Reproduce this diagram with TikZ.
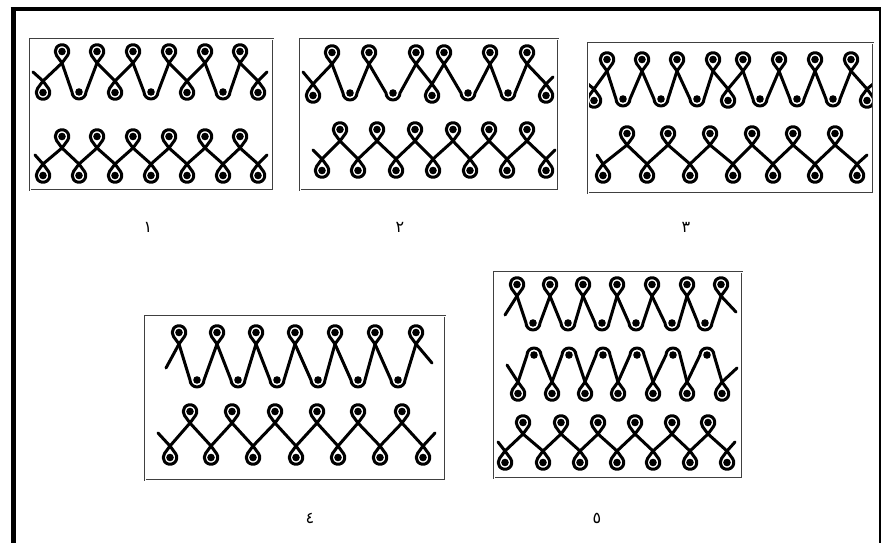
\documentclass[tikz,border=0pt]{standalone}
\usepackage{fontspec}
\newfontfamily\arabicfont[Script=Arabic]{DejaVu Sans}
\TeXXeTstate=1
\usetikzlibrary{calc}

\newcommand{\loopd}{11.5}
\newcommand{\loopr}{6.8}
\newcommand{\loopb}{36}
\newcommand{\bendr}{7}
\newcommand{\dotr}{3.8}

% loop above the crossing (#1,\ytop)
\newcommand{\looptop}[1]{%
	\draw[thread] (#1,\ytop) -- ($(#1,\ytop+\loopd)+(-\loopb:\loopr)$)
		arc[start angle=-\loopb, end angle=180+\loopb, radius=\loopr] -- (#1,\ytop);
	\fill (#1,\ytop+\loopd) circle[radius=\dotr];}
% loop below the crossing (#1,\ybot)
\newcommand{\loopbot}[1]{%
	\draw[thread] (#1,\ybot) -- ($(#1,\ybot-\loopd)+(\loopb:\loopr)$)
		arc[start angle=\loopb, end angle=-180-\loopb, radius=\loopr] -- (#1,\ybot);
	\fill (#1,\ybot-\loopd) circle[radius=\dotr];}
% round valley with a dot
\newcommand{\valley}[3]{%
	\draw[thread] (#1,\ytop) -- (#2-\bendr,\yvalley+\bendr)
		arc[start angle=180, end angle=360, radius=\bendr] -- (#3,\ytop);
	\fill (#2,\yvalley+\bendr) circle[radius=\dotr];}
% round hump with a dot
\newcommand{\hump}[3]{%
	\draw[thread] (#1,\ybot) -- (#2-\bendr,\yarch-\bendr)
		arc[start angle=180, end angle=0, radius=\bendr] -- (#3,\ybot);
	\fill (#2,\yarch-\bendr) circle[radius=\dotr];}
% straight V down to a loop
\newcommand{\notch}[3]{%
	\draw[thread] (#1,\ytop) -- (#2,\ybot) -- (#3,\ytop);
	\loopbot{#2}}

\begin{document}
\begin{tikzpicture}[x=1pt, y=1pt,
	thread/.style={line width=3pt, line cap=round, line join=round},
	panel/.style={draw=black!75, double=white, double distance=0.7pt, line width=0.6pt},
	num/.style={font=\arabicfont\fontsize{16}{16}\selectfont}]
	\useasboundingbox (0,0) rectangle (881,-543);
	% page border
	\draw[line width=4pt] (10.5,-9.5) -- (881,-9.5);
	\draw[line width=5pt] (13,-7.5) -- (13,-543);
	\draw[line width=2pt] (879.5,-9.5) -- (879.5,-543);

	% panel 1
	\begin{scope}
		\clip (30,-39) rectangle (273,-190);
		\def\ytop{-63}\def\ybot{-81}\def\yvalley{-99}
		\draw[thread] (33,-72) -- (43,\ybot) -- (62,\ytop);
		\loopbot{43}
		\valley{62}{79}{97}
		\notch{97}{115}{133}
		\valley{133}{151}{169}
		\notch{169}{187}{205}
		\valley{205}{223}{240}
		\draw[thread] (240,\ytop) -- (258,\ybot) -- (267,-72);
		\loopbot{258}
		\foreach \x in {62,97,133,169,205,240} \looptop{\x};

		\def\ytop{-148}\def\ybot{-164}
		\draw[thread] (35,-155) -- (43,\ybot)
			\foreach \t/\b in {62/79,97/115,133/151,169/187,205/223,240/258} { -- (\t,\ytop) -- (\b,\ybot) }
			-- (267,-155);
		\foreach \x in {62,97,133,169,205,240} \looptop{\x};
		\foreach \x in {43,79,115,151,187,223,258} \loopbot{\x};
	\end{scope}
	\draw[panel] (30,-39) rectangle (273,-190);

	% panel 2
	\begin{scope}
		\clip (300,-39) rectangle (558,-190);
		\def\ytop{-64}\def\ybot{-84}\def\yvalley{-100}
		\draw[thread] (303,-72) -- (313,\ybot) -- (332,\ytop);
		\loopbot{313}
		\valley{332}{350}{369}
		\valley{369}{393}{416}
		\notch{416}{432}{444}
		\valley{444}{468}{490}
		\valley{490}{508}{527}
		\draw[thread] (527,\ytop) -- (546,\ybot) -- (553,-77);
		\loopbot{546}
		\foreach \x in {332,369,416,444,490,527} \looptop{\x};

		\def\ytop{-141}\def\ybot{-159}
		\draw[thread] (313,-150) -- (322,\ybot)
			\foreach \t/\b in {340/358,377/396,415/433,453/470,489/507,527/546} { -- (\t,\ytop) -- (\b,\ybot) }
			-- (555,-150);
		\foreach \x in {340,377,415,453,489,527} \looptop{\x};
		\foreach \x in {322,358,396,433,470,507,546} \loopbot{\x};
	\end{scope}
	\draw[panel] (300,-39) rectangle (558,-190);

	% panel 3
	\begin{scope}
		\clip (588,-43) rectangle (873,-193);
		\def\ytop{-71}\def\ybot{-89}\def\yvalley{-106}
		\draw[thread] (583,-80) -- (594,\ybot) -- (607,\ytop);
		\loopbot{594}
		\valley{607}{623}{642}
		\valley{642}{661}{677}
		\valley{677}{697}{713}
		\notch{713}{728}{743}
		\valley{743}{760}{779}
		\valley{779}{797}{815}
		\valley{815}{833}{851}
		\draw[thread] (851,\ytop) -- (867,\ybot) -- (878,-80);
		\loopbot{867}
		\foreach \x in {607,642,677,713,743,779,815,851} \looptop{\x};

		\def\ytop{-145}\def\ybot{-164}
		\draw[thread] (597,-155) -- (603,\ybot)
			\foreach \t/\b in {627/647,668/690,710/733,752/773,793/815,835/857} { -- (\t,\ytop) -- (\b,\ybot) }
			-- (867,-155);
		\foreach \x in {627,668,710,752,793,835} \looptop{\x};
		\foreach \x in {603,647,690,733,773,815,857} \loopbot{\x};
	\end{scope}
	\draw[panel] (588,-43) rectangle (873,-193);

	% panel 4
	\begin{scope}
		\clip (145,-316) rectangle (445,-480);
		\def\ytop{-344}\def\yvalley{-387}
		\draw[thread] (166,-368) -- (179,\ytop);
		\foreach \l/\m/\r in {179/197/217,217/238/256,256/277/295,295/318/335,335/358/375,375/398/416} {\valley{\l}{\m}{\r}}
		\draw[thread] (416,\ytop) -- (432,-363);
		\foreach \x in {179,217,256,295,335,375,416} \looptop{\x};

		\def\ytop{-423}\def\ybot{-446}
		\draw[thread] (158,-433) -- (170,\ybot)
			\foreach \t/\b in {190/211,232/253,275/296,317/338,358/380,402/423} { -- (\t,\ytop) -- (\b,\ybot) }
			-- (435,-433);
		\foreach \x in {190,232,275,317,358,402} \looptop{\x};
		\foreach \x in {170,211,253,296,338,380,423} \loopbot{\x};
	\end{scope}
	\draw[panel] (145,-316) rectangle (445,-480);

	% panel 5
	\begin{scope}
		\clip (494,-272) rectangle (742,-478);
		\def\ytop{-296}\def\yvalley{-330}
		\draw[thread] (505,-315) -- (517,\ytop);
		\foreach \l/\m/\r in {517/533/550,550/568/583,583/602/617,617/636/652,652/672/687,687/705/721} {\valley{\l}{\m}{\r}}
		\draw[thread] (721,\ytop) -- (736,-312);
		\foreach \x in {517,550,583,617,652,687,721} \looptop{\x};

		\def\ybot{-382}\def\yarch{-348}
		\draw[thread] (507,-365) -- (518,\ybot);
		\foreach \l/\m/\r in {518/534/552,552/569/585,585/603/618,618/637/653,653/673/687,687/707/722} {\hump{\l}{\m}{\r}}
		\draw[thread] (722,\ybot) -- (737,-368);
		\foreach \x in {518,552,585,618,653,687,722} \loopbot{\x};

		\def\ytop{-434}\def\ybot{-451}
		\draw[thread] (498,-442) -- (505,\ybot)
			\foreach \t/\b in {523/543,561/580,598/617,635/653,672/690,708/727} { -- (\t,\ytop) -- (\b,\ybot) }
			-- (735,-442);
		\foreach \x in {523,561,598,635,672,708} \looptop{\x};
		\foreach \x in {505,543,580,617,653,690,727} \loopbot{\x};
	\end{scope}
	\draw[panel] (494,-272) rectangle (742,-478);

	% numbers
	\node[num] (n1) at (148,-227) {\beginR ١\endR};
	\node[num] (n2) at (400,-227) {\beginR ٢\endR};
	\node[num] (n3) at (686,-227) {\beginR ٣\endR};
	\node[num] (n4) at (310,-518) {\beginR ٤\endR};
	\node[num] (n5) at (597,-518) {\beginR ٥\endR};
\end{tikzpicture}
\end{document}
